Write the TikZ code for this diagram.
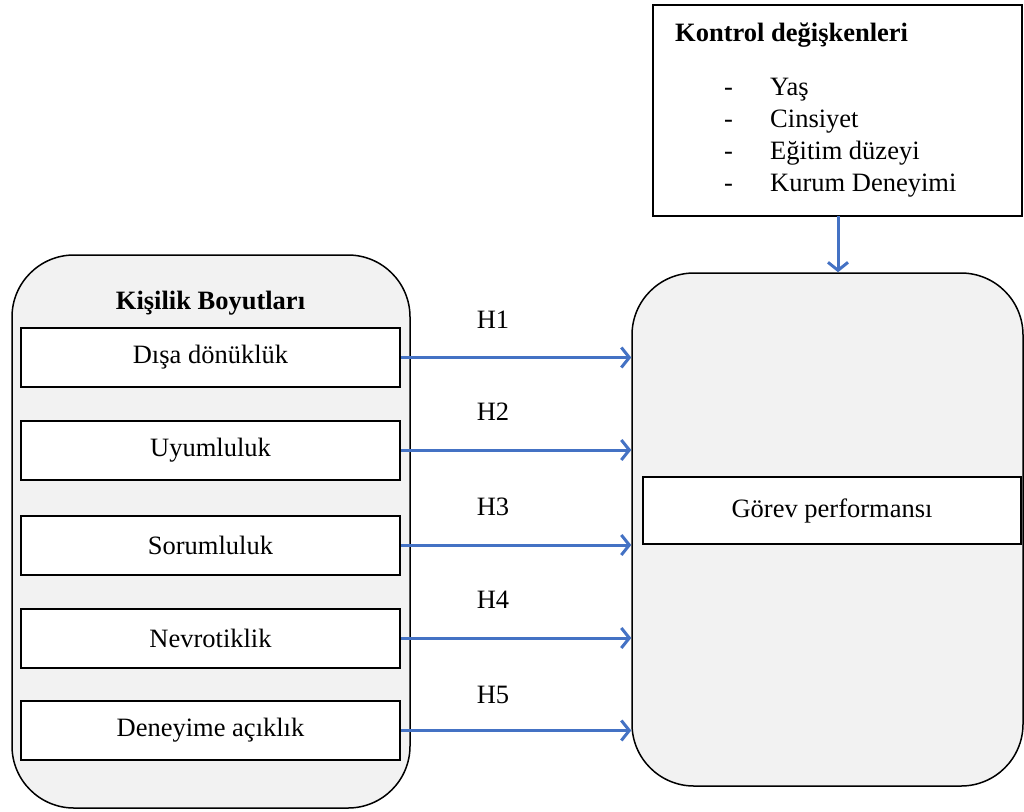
\documentclass[tikz,border=0pt]{standalone}
\usepackage{fontspec}
\setmainfont{Liberation Serif}
\usetikzlibrary{arrows.meta}
\definecolor{arrowblue}{HTML}{4472C4}
\definecolor{panelgray}{HTML}{F2F2F2}
\newcommand{\bigtxt}{\fontsize{26.5}{30}\selectfont}
\tikzset{
  panel/.style={draw=black, line width=1.5pt, fill=panelgray, rounded corners=62pt, inner sep=0pt},
  itembox/.style={draw=black, line width=2pt, fill=white, minimum width=379pt, minimum height=59pt, inner sep=0pt, font=\bigtxt},
  hyp/.style={font=\bigtxt, inner sep=0pt},
  listtxt/.style={anchor=base west, inner sep=0pt, font=\bigtxt},
  link/.style={draw=arrowblue, line width=3pt, -{Straight Barb[length=8pt,width=20pt,line width=3pt]}},
}
\begin{document}
\begin{tikzpicture}[x=1pt,y=-1pt]
\useasboundingbox (0,0) rectangle (1024,811);
% containers
\node[panel, minimum width=398pt, minimum height=553pt] (left) at (211,531.5) {};
\node[panel, minimum width=391pt, minimum height=513pt] (right) at (827.5,529.5) {};
% control box
\node[draw=black, line width=1.5pt, fill=white, minimum width=369pt, minimum height=211pt, inner sep=0pt] (ctrl) at (837.5,110.5) {};
\node[anchor=west, inner sep=0pt, font=\bigtxt\bfseries] (ctitle) at (675,35) {Kontrol değişkenleri};
\node[listtxt] (d1) at (724,95) {-};
\node[listtxt] (d2) at (724,127) {-};
\node[listtxt] (d3) at (724,159) {-};
\node[listtxt] (d4) at (724,191) {-};
\node[listtxt] (c1) at (770,95) {Yaş};
\node[listtxt] (c2) at (770,127) {Cinsiyet};
\node[listtxt] (c3) at (770,159) {Eğitim düzeyi};
\node[listtxt] (c4) at (770,191) {Kurum Deneyimi};
\coordinate (ctrlout) at (838,216);
\draw[link] (ctrlout) -- (ctrlout |- right.north);
% left title
\node[inner sep=0pt, font=\bigtxt\bfseries] (ltitle) at (210.5,303) {Kişilik Boyutları};
% items
\node[itembox] (b1) at (210.5,357.5) {Dışa dönüklük};
\node[itembox] (b2) at (210.5,450) {Uyumluluk};
\node[itembox] (b3) at (210.5,545) {Sorumluluk};
\node[itembox] (b4) at (210.5,638) {Nevrotiklik};
\node[itembox] (b5) at (210.5,730.5) {Deneyime açıklık};
% outcome
\node[itembox, minimum width=378pt, minimum height=67pt] (out) at (832,510.5) {Görev performansı};
% arrows
\foreach \i in {1,...,5}{
  \draw[link] (b\i.east) -- (b\i.east -| right.west);
}
% labels
\node[hyp] (h1) at (493,320) {H1};
\node[hyp] (h2) at (493,412) {H2};
\node[hyp] (h3) at (493,507) {H3};
\node[hyp] (h4) at (493,600) {H4};
\node[hyp] (h5) at (493,695) {H5};
\end{tikzpicture}
\end{document}
